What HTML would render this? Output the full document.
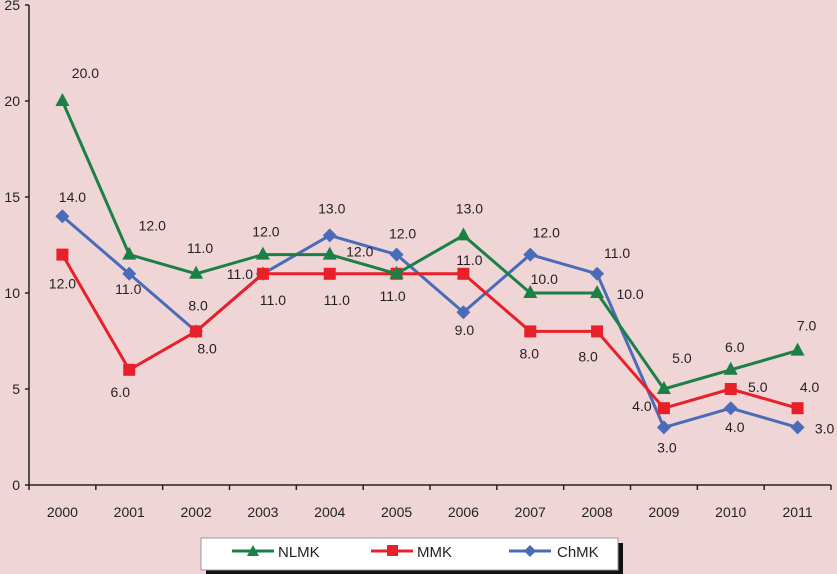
<!DOCTYPE html>
<html><head><meta charset="utf-8"><style>
html,body{margin:0;padding:0;background:#f0d5d6;}
svg{display:block;font-family:"Liberation Sans",sans-serif;}
</style></head><body>
<svg id="chart" width="837" height="574" viewBox="0 0 837 574" xmlns="http://www.w3.org/2000/svg">
<rect x="0" y="0" width="837" height="574" fill="#f0d5d6"/>
<g id="axes"></g>
<g id="series"></g>
<g id="labels"></g>
<g>
<rect x="206" y="543" width="417" height="31" fill="#111"/>
<rect x="201" y="538" width="417" height="32" fill="#fff" stroke="#999" stroke-width="1"/>
<g>
<line x1="232" y1="551" x2="274" y2="551" stroke="#1a8045" stroke-width="3"/>
<polygon points="253,545 259,556 247,556" fill="#1a8045"/>
<text x="278" y="557" font-size="15" fill="#222">NLMK</text></g>
<g>
<line x1="371" y1="551" x2="413" y2="551" stroke="#e8202a" stroke-width="3"/>
<rect x="387" y="545" width="11" height="11" fill="#e8202a"/>
<text x="417" y="557" font-size="15" fill="#222">MMK</text></g>
<g>
<line x1="509" y1="551" x2="551" y2="551" stroke="#4a6cb8" stroke-width="3"/>
<polygon points="530,545 536,551 530,557 524,551" fill="#4a6cb8"/>
<text x="557" y="557" font-size="15" fill="#222">ChMK</text></g>
</g>
</svg>
<script>
const years = ["2000","2001","2002","2003","2004","2005","2006","2007","2008","2009","2010","2011"];
const nlmk = [20,12,11,12,12,11,13,10,10,5,6,7];
const mmk = [12,6,8,11,11,11,11,8,8,4,5,4];
const chmk = [14,11,8,11,13,12,9,12,11,3,4,3];
const yTicks = [0,5,10,15,20,25];
// label offsets (styling only)
const nlmkOff = [[23,-28],[23,-29],[4,-26],[3,-23],[30,-3],[-4,22],[6,-27],[14,-14],[33,1],[18,-31],[4,-23],[9,-25]];
const mmkOff = [[0,29],[-9,22],[11,17],[10,26],[7,26],null,[6,-14],[-1,22],[-9,25],[-22,-2],[27,-2],[12,-21]];
const chmkOff = [[10,-19],[-1,15],[2,-26],[-23,0],[2,-27],[6,-21],[1,18],[16,-22],[20,-21],[3,20],[4,19],[27,1]];

const NS="http://www.w3.org/2000/svg";
const X0=29,X1=831,Y0=485,Y25=5;
const xScale=i=>X0+(X1-X0)/years.length*(i+0.5);
const yScale=v=>Y0-(Y0-Y25)*v/25;
function mk(tag,attrs,parent){const e=document.createElementNS(NS,tag);for(const k in attrs)e.setAttribute(k,attrs[k]);parent.appendChild(e);return e;}
const axes=document.getElementById('axes'),ser=document.getElementById('series'),lab=document.getElementById('labels');
let a=mk('line',{x1:X0,y1:Y25,x2:X0,y2:Y0,stroke:'#222','stroke-width':1.5},axes);


a=mk('line',{x1:X0,y1:Y0,x2:X1,y2:Y0,stroke:'#222','stroke-width':1.5},axes);


yTicks.forEach(t=>{const y=yScale(t);
 mk('line',{x1:X0-4,y1:y,x2:X0,y2:y,stroke:'#222','stroke-width':1.5},axes);
 const tx=mk('text',{x:X0-9,y:y+5,'text-anchor':'end','font-size':14,fill:'#222'},axes);tx.textContent=t;
 
 
});
for(let i=0;i<=years.length;i++){const x=X0+(X1-X0)/years.length*i;mk('line',{x1:x,y1:Y0,x2:x,y2:Y0+5,stroke:'#222','stroke-width':1.5},axes);}
years.forEach((yr,i)=>{const tx=mk('text',{x:xScale(i),y:517,'text-anchor':'middle','font-size':14,fill:'#222'},axes);tx.textContent=yr;
 
 
});
function marker(type,x,y,c,g){
 if(type==='tri')return mk('polygon',{points:`${x},${y-8} ${x+7},${y+5} ${x-7},${y+5}`,fill:c},g);
 if(type==='sq')return mk('rect',{x:x-6,y:y-6,width:12,height:12,fill:c},g);
 return mk('polygon',{points:`${x},${y-7} ${x+7},${y} ${x},${y+7} ${x-7},${y}`,fill:c},g);
}
function draw(name,vals,color,type,offs){
 const g=mk('g',{},ser);
 
 
 const l=mk('polyline',{points:vals.map((v,i)=>xScale(i)+','+yScale(v)).join(' '),fill:'none',stroke:color,'stroke-width':3,'stroke-linejoin':'round'},g);
 
 
 vals.forEach((v,i)=>{const m=marker(type,xScale(i),yScale(v),color,g);
  
  
  const o=offs[i];if(!o)return;
  const t=mk('text',{x:xScale(i)+o[0],y:yScale(v)+o[1]+5,'text-anchor':'middle','font-size':14,fill:'#231f20'},lab);
  t.textContent=v.toFixed(1);
  
  
 });
}
draw('chmk',chmk,'#4a6cb8','dia',chmkOff);
draw('mmk',mmk,'#e8202a','sq',mmkOff);
draw('nlmk',nlmk,'#1a8045','tri',nlmkOff);
</script>
</body></html>
